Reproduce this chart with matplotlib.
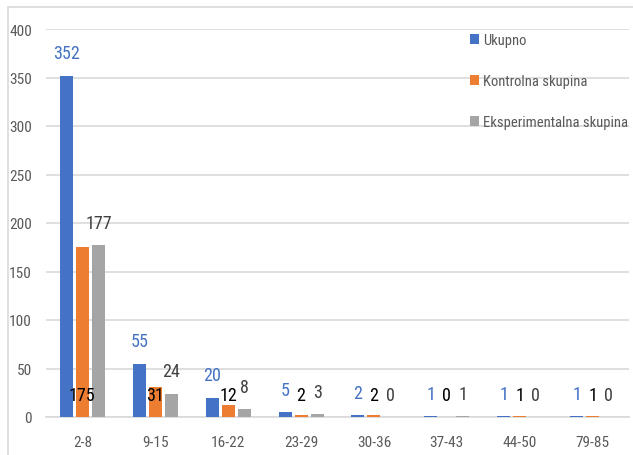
import matplotlib
matplotlib.use("Agg")
import matplotlib.pyplot as plt
from matplotlib import font_manager
from matplotlib.patches import Rectangle
import numpy as np

categories = ["2-8", "9-15", "16-22", "23-29", "30-36", "37-43", "44-50", "79-85"]
ukupno = [352, 55, 20, 5, 2, 1, 1, 1]
kontrolna = [175, 31, 12, 2, 2, 0, 1, 1]
eksperimentalna = [177, 24, 8, 3, 0, 1, 0, 0]
series_names = ["Ukupno", "Kontrolna skupina", "Eksperimentalna skupina"]
yticks = [0, 50, 100, 150, 200, 250, 300, 350, 400]

# find a narrow / condensed font if available
narrow = None
for pref in ["LiberationSansNarrow-Regular", "RobotoCondensed-Regular", "OpenSans_Condensed-Regular",
             "OpenSansCondensed", "DejaVuSansCondensed.ttf", "Condensed", "Narrow"]:
    for f in font_manager.fontManager.ttflist:
        base = f.fname.split("/")[-1]
        if pref in base and "Bold" not in base and "Oblique" not in base and "Italic" not in base:
            narrow = f.fname
            break
    if narrow:
        break

def fp(size):
    if narrow:
        return font_manager.FontProperties(fname=narrow, size=size)
    return font_manager.FontProperties(family="DejaVu Sans", size=size * 0.85)

W, H = 633, 456
fig = plt.figure(figsize=(W / 100, H / 100), dpi=100)
ax = fig.add_axes([46 / W, 1 - 418 / H, (629 - 46) / W, (418 - 30) / H])

x = np.arange(len(categories))
bw = 0.178
step = 0.22
colors = ["#4472C4", "#ED7D31", "#A5A5A5"]
data = [ukupno, kontrolna, eksperimentalna]
bars = []
for i, (vals, c, n) in enumerate(zip(data, colors, series_names)):
    b = ax.bar(x + (i - 1) * step, vals, width=bw, color=c, label=n, zorder=3)
    bars.append(b)

ax.set_ylim(0, 400)
ax.set_xlim(-0.5, len(categories) - 0.5)
ax.set_yticks(yticks)
ax.set_xticks(x)
ax.set_xticklabels(categories)
ax.tick_params(axis="both", length=0, colors="#595959")
ax.tick_params(axis="y", pad=10)
ax.tick_params(axis="x", pad=13)
for lab in ax.get_xticklabels() + ax.get_yticklabels():
    lab.set_fontproperties(fp(11))
ax.grid(axis="y", color="#D9D9D9", linewidth=1.2, zorder=0)
for s in ["top", "right", "left"]:
    ax.spines[s].set_visible(False)
ax.spines["bottom"].set_color("#D9D9D9")
ax.spines["bottom"].set_linewidth(1.2)

# data labels
for rect, v in zip(bars[0], ukupno):
    ax.annotate(str(v), (rect.get_x() + rect.get_width() / 2, v), xytext=(0, 16),
                textcoords="offset points", ha="center", va="center",
                fontproperties=fp(13), color="#4472C4", zorder=5)
for rect, v in zip(bars[1], kontrolna):
    ax.annotate(str(v), (rect.get_x() + rect.get_width() / 2, 0), xytext=(0, 16),
                textcoords="offset points", ha="center", va="center",
                fontproperties=fp(13), color="#000000", zorder=5)
for rect, v in zip(bars[2], eksperimentalna):
    ax.annotate(str(v), (rect.get_x() + rect.get_width() / 2, v), xytext=(0, 16),
                textcoords="offset points", ha="center", va="center",
                fontproperties=fp(13), color="#404040", zorder=5)

leg = fig.legend(handles=bars, labels=series_names, loc="upper left",
                 bbox_to_anchor=(470 / W, 1 - 34 / H), bbox_transform=fig.transFigure,
                 frameon=False, prop=fp(10.5), handlelength=0.65, handleheight=0.65,
                 handletextpad=0.25, labelspacing=1.85, borderaxespad=0, borderpad=0)
for t in leg.get_texts():
    t.set_color("#595959")

# outer chart border
fig.patches.append(Rectangle((8 / W, -0.1), 1.2, 1 - 8 / H + 0.1, transform=fig.transFigure,
                             fill=False, edgecolor="#D9D9D9", linewidth=1.2))

fig.savefig("out.png", dpi=100)
